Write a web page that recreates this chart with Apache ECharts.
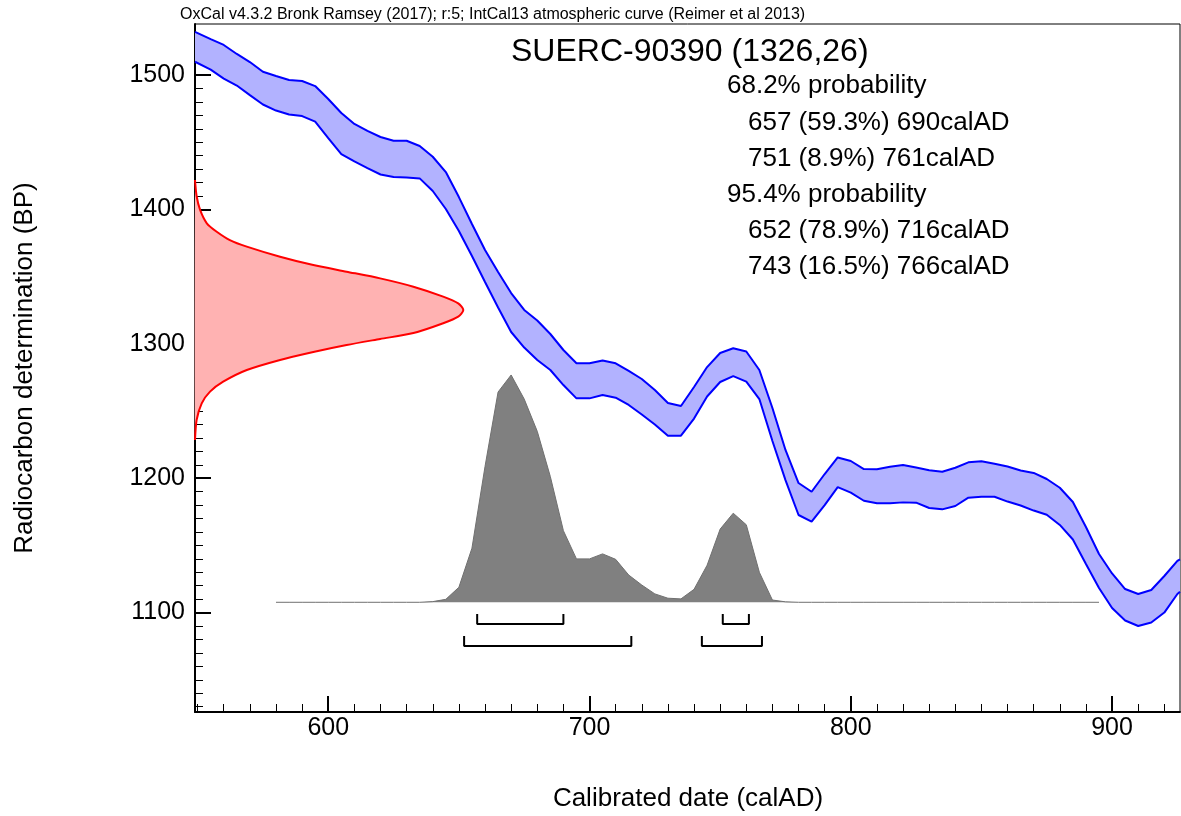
<!DOCTYPE html>
<html><head><meta charset="utf-8">
<script src="https://cdn.jsdelivr.net/npm/echarts@6/dist/echarts.min.js"></script>
<style>html,body{margin:0;padding:0;background:#fff}#c{width:1181px;height:816px}</style>
</head><body><div id="c"></div>
<script>
// ---- calibration curve (IntCal13 band, BP) ----
const calYears = [549,555,560,565,570,575,580,585,590,595,600,605,610,615,620,625,630,635,640,645,650,655,660,665,670,675,680,685,690,695,700,705,710,715,720,725,730,735,740,745,750,755,760,765,770,775,780,785,790,795,800,805,810,815,820,825,830,835,840,845,850,855,860,865,870,875,880,885,890,895,900,905,910,915,920,925,926];
const calHigh = [1532.2,1526.8,1522.4,1515.7,1509.7,1502.5,1499.3,1496.3,1495.6,1491.8,1482.2,1471.8,1463.6,1458.4,1453.9,1451.1,1451.1,1447.2,1439.2,1427.8,1409.2,1389.2,1369.8,1353.4,1337.8,1325.2,1317.3,1307.3,1295.4,1285.5,1285.5,1287.6,1285.5,1279.8,1273.8,1265.6,1256.0,1253.7,1267.9,1282.7,1293.2,1296.7,1294.3,1280.5,1252.2,1221.0,1196.4,1189.9,1203.1,1215.4,1212.8,1206.8,1206.6,1208.5,1209.8,1207.9,1205.9,1204.8,1207.8,1211.8,1212.6,1210.8,1208.7,1205.7,1203.9,1199.4,1192.9,1182.3,1163.7,1143.6,1129.1,1117.5,1113.8,1116.8,1127.2,1138.4,1139.6];
const calLow = [1509.9,1504.1,1497.4,1492.2,1485.1,1478.1,1473.6,1470.6,1469.5,1465.4,1453.1,1441.2,1435.7,1430.8,1426.0,1424.1,1423.7,1423.1,1413.7,1400.3,1383.9,1365.3,1346.0,1327.0,1308.8,1297.2,1287.9,1280.5,1269.3,1259.4,1259.4,1261.9,1259.9,1254.5,1247.4,1240.0,1231.6,1231.6,1244.4,1260.8,1271.6,1276.0,1271.9,1258.9,1227.7,1198.6,1172.6,1167.6,1180.0,1193.4,1189.2,1183.2,1181.3,1181.3,1182.0,1181.8,1177.8,1176.8,1179.3,1185.5,1186.2,1186.2,1182.6,1179.7,1175.9,1172.8,1165.2,1154.4,1136.1,1118.3,1103.4,1094.1,1090.0,1092.6,1100.0,1113.8,1115.5];

// ---- calibrated probability distribution (relative) ----
const probYears = [580,585,590,595,600,605,610,615,620,625,630,635,640,645,650,655,660,665,670,675,680,685,690,695,700,705,710,715,720,725,730,735,740,745,750,755,760,765,770,775,780,785,790,795,800,805,810,815,820,825,830,835,840,845,850,855,860,865,870,875,880,885,890,895];
const probDensity = [0,0,0,0,0,0,0,0,0,0,0,0,0.003,0.013,0.066,0.238,0.597,0.925,1.0,0.894,0.752,0.553,0.315,0.191,0.191,0.213,0.189,0.120,0.076,0.037,0.018,0.015,0.057,0.163,0.322,0.392,0.341,0.132,0.010,0.002,0,0,0,0,0,0,0,0,0,0,0,0,0,0,0,0,0,0,0,0,0,0,0,0];

// ---- radiocarbon measurement distribution (relative) ----
const measBP = [1421.9,1410.0,1399.6,1389.7,1383.4,1377.2,1372.3,1364.8,1358.6,1353.7,1348.7,1342.5,1335.1,1330.1,1325.2,1320.2,1315.3,1308.0,1303.6,1299.1,1293.9,1288.0,1280.5,1271.8,1264.4,1255.7,1243.3,1228.4];
const measDensity = [0,0.006,0.019,0.044,0.081,0.130,0.193,0.317,0.441,0.565,0.690,0.814,0.925,0.981,1.0,0.981,0.925,0.814,0.690,0.565,0.441,0.317,0.193,0.105,0.056,0.025,0.006,0];

// ---- ranges ----
const range68 = [[657,690],[751,761]];
const range95 = [[652,716],[743,766]];

// ---- ticks ----
const xMajorTicks = [600,700,800,900];
const xMinorTicks = [550,560,570,580,590,610,620,630,640,650,660,670,680,690,710,720,730,740,750,760,770,780,790,810,820,830,840,850,860,870,880,890,910,920];
const yMajorTicks = [1100,1200,1300,1400,1500];
const yMinorTicks = [1030,1040,1050,1060,1070,1080,1090,1110,1120,1130,1140,1150,1160,1170,1180,1190,1210,1220,1230,1240,1250,1260,1270,1280,1290,1310,1320,1330,1340,1350,1360,1370,1380,1390,1410,1420,1430,1440,1450,1460,1470,1480,1490,1510,1520,1530];

// ---- texts ----
const headerText = 'OxCal v4.3.2 Bronk Ramsey (2017); r:5; IntCal13 atmospheric curve (Reimer et al 2013)';
const titleText = 'SUERC-90390 (1326,26)';
const summaryHeads = ['68.2% probability', '95.4% probability'];
const summary68 = ['657 (59.3%) 690calAD', '751 (8.9%) 761calAD'];
const summary95 = ['652 (78.9%) 716calAD', '743 (16.5%) 766calAD'];
const xTitle = 'Calibrated date (calAD)';
const yTitle = 'Radiocarbon determination (BP)';

const FONT = '"Liberation Sans", Arial, sans-serif';
const chart = echarts.init(document.getElementById('c'), null, {renderer: 'canvas', width: 1181, height: 816});

function bracket(r, lo, hi) {
  return {
    type: 'line', xAxisIndex: 0, yAxisIndex: 0, symbol: 'none', silent: true, z: 6,
    lineStyle: {color: '#000', width: 2},
    data: [[r[0], hi], [r[0], lo], [r[1], lo], [r[1], hi]]
  };
}

const series = [
  {
    type: 'custom', xAxisIndex: 0, yAxisIndex: 0, z: 1, silent: true,
    data: [[calYears[0], calHigh[0]]],
    renderItem: function (params, api) {
      const pts = calYears.map((y, i) => api.coord([y, calHigh[i]]));
      for (let i = calYears.length - 1; i >= 0; i--) pts.push(api.coord([calYears[i], calLow[i]]));
      return {type: 'polygon', shape: {points: pts}, style: {fill: '#b2b2ff', stroke: null}};
    }
  },
  {type: 'line', xAxisIndex: 0, yAxisIndex: 0, symbol: 'none', z: 3, silent: true,
   lineStyle: {color: '#0000ff', width: 2}, data: calYears.map((y, i) => [y, calHigh[i]])},
  {type: 'line', xAxisIndex: 0, yAxisIndex: 0, symbol: 'none', z: 3, silent: true,
   lineStyle: {color: '#0000ff', width: 2}, data: calYears.map((y, i) => [y, calLow[i]])},
  {
    type: 'custom', xAxisIndex: 1, yAxisIndex: 0, z: 1, silent: true,
    data: [[measDensity[0], measBP[0]]],
    renderItem: function (params, api) {
      const pts = measBP.map((b, i) => api.coord([measDensity[i], b]));
      return {type: 'polygon', shape: {points: pts, smooth: 0.25}, style: {fill: '#ffb2b2', stroke: null}};
    }
  },
  {type: 'line', xAxisIndex: 1, yAxisIndex: 0, symbol: 'none', z: 3, silent: true, smooth: 0.25,
   lineStyle: {color: '#ff0000', width: 2}, data: measBP.map((b, i) => [measDensity[i], b])},
  {type: 'line', xAxisIndex: 0, yAxisIndex: 1, symbol: 'none', z: 2, silent: true,
   lineStyle: {color: '#707070', width: 1},
   areaStyle: {color: '#808080', opacity: 1, origin: 'auto'},
   data: probYears.map((y, i) => [y, probDensity[i]])},
  bracket(range68[0], 1091.5, 1098.9),
  bracket(range68[1], 1091.5, 1098.9),
  bracket(range95[0], 1075.1, 1082.6),
  bracket(range95[1], 1075.1, 1082.6)
];

const graphics = [
  {type: 'text', x: 180, y: 15, style: {text: headerText, font: '16px ' + FONT, fill: '#000', verticalAlign: 'middle'}},
  {type: 'text', x: 511, y: 52, style: {text: titleText, font: '32px ' + FONT, fill: '#000', verticalAlign: 'middle'}},
  {type: 'text', x: 727, y: 86, style: {text: summaryHeads[0], font: '26px ' + FONT, fill: '#000', verticalAlign: 'middle'}},
  {type: 'text', x: 748, y: 122.5, style: {text: summary68[0], font: '26px ' + FONT, fill: '#000', verticalAlign: 'middle'}},
  {type: 'text', x: 748, y: 158.5, style: {text: summary68[1], font: '26px ' + FONT, fill: '#000', verticalAlign: 'middle'}},
  {type: 'text', x: 727, y: 194.5, style: {text: summaryHeads[1], font: '26px ' + FONT, fill: '#000', verticalAlign: 'middle'}},
  {type: 'text', x: 748, y: 230.5, style: {text: summary95[0], font: '26px ' + FONT, fill: '#000', verticalAlign: 'middle'}},
  {type: 'text', x: 748, y: 266.5, style: {text: summary95[1], font: '26px ' + FONT, fill: '#000', verticalAlign: 'middle'}},
  {type: 'text', x: 688, y: 799, style: {text: xTitle, font: '26px ' + FONT, fill: '#000', align: 'center', verticalAlign: 'middle'}},
  {type: 'text', x: 25, y: 368, rotation: Math.PI / 2, style: {text: yTitle, font: '26px ' + FONT, fill: '#000', align: 'center', verticalAlign: 'middle'}}
];

const plain = v => String(v);

chart.setOption({
  animation: false,
  backgroundColor: '#fff',
  grid: {left: 195, right: 1, top: 24, bottom: 104, show: true, borderColor: '#000', borderWidth: 1, backgroundColor: 'transparent'},
  xAxis: [
    {type: 'value', min: 549, max: 926, position: 'bottom',
     axisLine: {show: true, onZero: false, lineStyle: {color: '#000', width: 2}},
     axisTick: {show: true, inside: true, length: 16, lineStyle: {color: '#000', width: 2}, customValues: xMajorTicks},
     axisLabel: {show: true, customValues: xMajorTicks, formatter: plain, fontSize: 25, fontFamily: FONT, color: '#000', margin: 4},
     splitLine: {show: false}},
    {type: 'value', min: 0, max: 3.671, show: false},
    {type: 'value', min: 549, max: 926, position: 'bottom', offset: 0,
     axisLine: {show: false},
     axisTick: {show: true, inside: true, length: 8, lineStyle: {color: '#000', width: 1}, customValues: xMinorTicks},
     axisLabel: {show: false}, splitLine: {show: false}}
  ],
  yAxis: [
    {type: 'value', min: 1026, max: 1538, position: 'left',
     axisLine: {show: true, onZero: false, lineStyle: {color: '#000', width: 2}},
     axisTick: {show: true, inside: true, length: 16, lineStyle: {color: '#000', width: 2}, customValues: yMajorTicks},
     axisLabel: {show: true, customValues: yMajorTicks, formatter: plain, fontSize: 25, fontFamily: FONT, color: '#000', margin: 10},
     splitLine: {show: false}},
    {type: 'value', min: -0.4826, max: 2.544, show: false},
    {type: 'value', min: 1026, max: 1538, position: 'left', offset: 0,
     axisLine: {show: false},
     axisTick: {show: true, inside: true, length: 8, lineStyle: {color: '#000', width: 1}, customValues: yMinorTicks},
     axisLabel: {show: false}, splitLine: {show: false}}
  ],
  series: series,
  graphic: graphics
});
</script></body></html>
